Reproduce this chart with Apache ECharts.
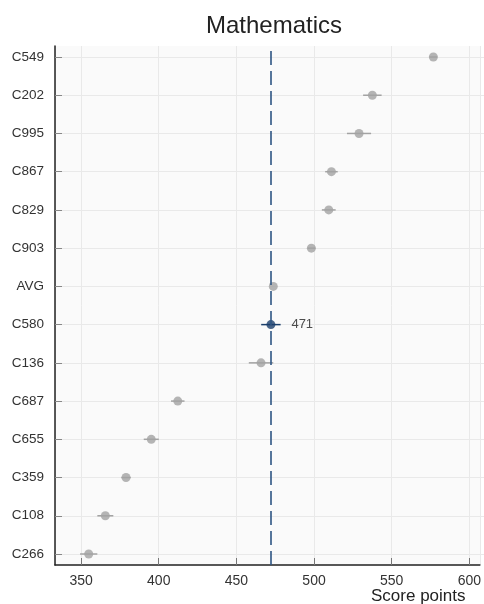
<!DOCTYPE html>
<html>
<head>
<meta charset="utf-8">
<script src="https://cdn.jsdelivr.net/npm/echarts@6/dist/echarts.min.js"></script>
<style>
html,body{margin:0;padding:0;background:#fff;}
#chart{width:484px;height:604px;}
</style>
</head>
<body>
<div id="chart"></div>
<script>
// Data
var categories = ['C549','C202','C995','C867','C829','C903','AVG','C580','C136','C687','C655','C359','C108','C266'];
var scores = [574.5, 535.6, 527.1, 509.5, 507.8, 496.7, 472.4, 470.9, 464.6, 411.5, 394.6, 378.5, 365.3, 354.7];
var errors = [2.5, 5.9, 7.7, 4.0, 4.4, 2.5, 0, 6.2, 7.8, 4.3, 4.8, 3.0, 5.1, 5.5];
var highlight = 'C580';
var referenceValue = 472.4;
var xMin = 333.2, xMax = 606.8;

var FONT = '"Liberation Sans", Arial, sans-serif';
var GRAY = '#a3a3a3';
var NAVY = '#1b3f6b';

var dotData = categories.map(function (c, i) {
  var isH = c === highlight;
  return {
    value: [scores[i], c],
    itemStyle: { color: isH ? NAVY : GRAY },
    label: isH ? {
      show: true, position: 'right', distance: 16,
      formatter: function (p) { return Math.round(p.value[0]); },
      fontSize: 13, color: '#222', fontFamily: FONT
    } : { show: false }
  };
});
var errData = categories.map(function (c, i) {
  return { value: [scores[i] - errors[i], scores[i] + errors[i], i], hl: c === highlight };
});

var chart = echarts.init(document.getElementById('chart'), null, { renderer: 'canvas' });
chart.setOption({
  animation: false,
  backgroundColor: '#ffffff',
  title: {
    text: 'Mathematics', left: 201, top: 9,
    textStyle: { fontSize: 24, fontWeight: 'normal', color: '#222', fontFamily: FONT }
  },
  grid: [
    { left: 55, right: 0, top: 46, bottom: 39, show: true, backgroundColor: '#fafafa', borderWidth: 0 },
    { left: 55, right: 0, top: 57, bottom: 50, show: false }
  ],
  xAxis: [
    {
      gridIndex: 0, type: 'value', min: xMin, max: xMax, splitNumber: 5,
      axisLine: { show: true, lineStyle: { color: '#222', width: 1.5 } },
      axisTick: { show: true, inside: true, length: 7, lineStyle: { color: '#777' } },
      axisLabel: { showMinLabel: false, showMaxLabel: false, fontSize: 14, color: '#333', margin: 9, fontFamily: FONT },
      splitLine: { show: true, lineStyle: { color: '#e9e9e9', width: 1 } }
    },
    {
      gridIndex: 1, type: 'value', min: xMin, max: xMax, show: false,
      splitLine: { show: false }
    }
  ],
  yAxis: [
    {
      gridIndex: 0, type: 'value', min: 0, max: 1,
      axisLine: { show: true, lineStyle: { color: '#222', width: 1.5 } },
      axisTick: { show: false }, axisLabel: { show: false }, splitLine: { show: false }
    },
    {
      gridIndex: 1, type: 'category', data: categories, inverse: true, boundaryGap: false,
      axisLine: { show: false },
      axisTick: { show: true, inside: true, length: 7, lineStyle: { color: '#888' } },
      axisLabel: { fontSize: 13.5, color: '#333', margin: 11, fontFamily: FONT },
      splitLine: { show: true, lineStyle: { color: '#e9e9e9', width: 1 } }
    }
  ],
  graphic: [
    { type: 'text', left: 371, top: 588, style: { text: 'Score points', fontSize: 17, fill: '#222', fontFamily: FONT } }
  ],
  series: [
    {
      type: 'scatter', xAxisIndex: 0, yAxisIndex: 0, data: [], silent: true,
      markLine: {
        silent: true, symbol: ['none', 'none'], label: { show: false },
        lineStyle: { color: '#2f5684', width: 1.6, type: [14, 6] },
        data: [{ xAxis: referenceValue }]
      }
    },
    {
      type: 'custom', xAxisIndex: 1, yAxisIndex: 1, silent: true, z: 3,
      data: errData,
      renderItem: function (params, api) {
        var p1 = api.coord([api.value(0), api.value(2)]);
        var p2 = api.coord([api.value(1), api.value(2)]);
        var hl = errData[params.dataIndex].hl;
        return {
          type: 'line',
          shape: { x1: p1[0], y1: p1[1], x2: p2[0], y2: p2[1] },
          style: { stroke: hl ? NAVY : GRAY, lineWidth: 1.5 }
        };
      }
    },
    {
      type: 'scatter', xAxisIndex: 1, yAxisIndex: 1, symbolSize: 9, z: 4,
      data: dotData
    }
  ]
});
</script>
</body>
</html>
